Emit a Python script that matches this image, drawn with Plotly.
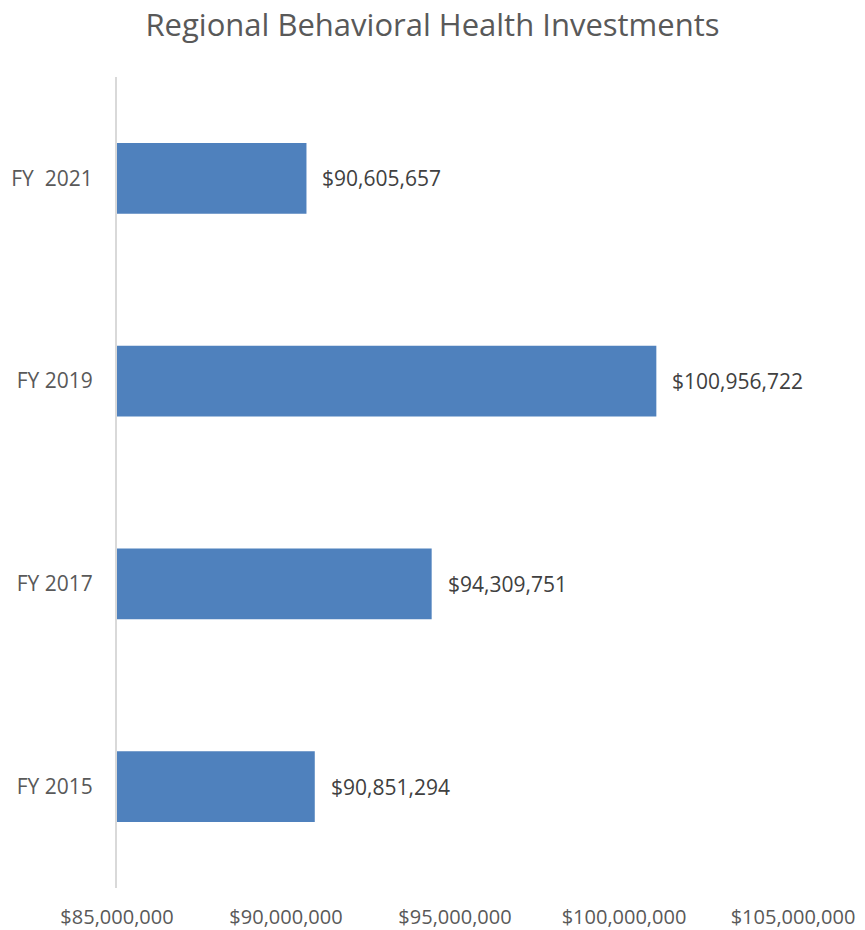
import plotly.graph_objects as go

categories = ["FY 2015", "FY 2017", "FY 2019", "FY\u00a0 2021"]
values = [90851294, 94309751, 100956722, 90605657]
labels = ["$90,851,294", "$94,309,751", "$100,956,722", "$90,605,657"]
tick_vals = [85000000, 90000000, 95000000, 100000000, 105000000]
tick_text = ["$85,000,000", "$90,000,000", "$95,000,000", "$100,000,000", "$105,000,000"]
axis_min = 85000000
axis_max = 105000000

FONT = "Open Sans"
GRAY = "#595959"

fig = go.Figure()
fig.add_trace(go.Bar(
    y=categories, x=[v - axis_min for v in values], orientation="h",
    base=axis_min,
    marker=dict(color="#4F81BD", line=dict(width=0)),
    width=0.35, hoverinfo="skip",
))

for c, v, t in zip(categories, values, labels):
    fig.add_annotation(x=v, y=c, text=t, showarrow=False, xanchor="left",
                       xshift=14, font=dict(family=FONT, size=21, color="#404040"))

fig.update_layout(
    width=865, height=930,
    margin=dict(l=117, r=72, t=77, b=42, autoexpand=False),
    paper_bgcolor="white", plot_bgcolor="white",
    showlegend=False,
    title=dict(text="Regional Behavioral Health Investments", x=0.5, xanchor="center",
               y=1 - 25 / 930, yanchor="middle", yref="container",
               font=dict(family=FONT, size=31, color=GRAY)),
    xaxis=dict(range=[axis_min, axis_max], tickvals=tick_vals, ticktext=tick_text,
               showgrid=False, zeroline=False, showline=False, automargin=False,
               ticks="outside", ticklen=11, tickcolor="rgba(0,0,0,0)",
               tickfont=dict(family=FONT, size=20, color=GRAY)),
    yaxis=dict(showline=True, linecolor="#D9D9D9", linewidth=2,
               showgrid=False, zeroline=False, automargin=False,
               ticks="outside", ticklen=18, tickcolor="rgba(0,0,0,0)",
               tickfont=dict(family=FONT, size=21, color=GRAY)),
)

fig.write_html("out.html")
